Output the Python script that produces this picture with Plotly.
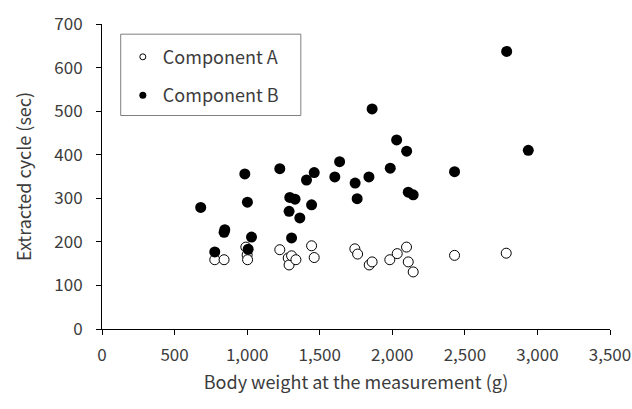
import plotly.graph_objects as go

# Component A (open circles)
a_weight = [777, 841, 991, 1000, 1003, 1225, 1283, 1289, 1306, 1336, 1444, 1462,
            1742, 1761, 1841, 1861, 1983, 2034, 2098, 2110, 2144, 2429, 2785]
a_cycle = [159, 159, 188, 170, 159, 182, 163, 147, 168, 159, 191, 164,
           184, 172, 147, 154, 159, 173, 188, 154, 131, 169, 174]

# Component B (filled circles)
b_weight = [680, 777, 841, 846, 984, 1007, 1002, 1030, 1225, 1289, 1294, 1306,
            1330, 1363, 1409, 1444, 1462, 1604, 1637, 1744, 1758, 1839, 1861,
            1986, 2030, 2099, 2110, 2144, 2429, 2788, 2937]
b_cycle = [279, 177, 222, 228, 356, 183, 291, 211, 368, 270, 302, 209,
           298, 255, 342, 285, 359, 349, 384, 335, 299, 349, 505,
           369, 434, 408, 314, 308, 361, 637, 410]

x_ticks = [0, 500, 1000, 1500, 2000, 2500, 3000, 3500]
x_tick_text = ["0", "500", "1,000", "1,500", "2,000", "2,500", "3,000", "3,500"]
y_ticks = [0, 100, 200, 300, 400, 500, 600, 700]

FONT = "Noto Sans CJK JP"
TXT = "#3c3c3c"
FS = 18
TFS = 17

fig = go.Figure()
fig.add_trace(go.Scatter(
    x=a_weight, y=a_cycle, mode="markers", name="Component A", showlegend=False,
    marker=dict(size=10, color="white", line=dict(color="black", width=1))))
fig.add_trace(go.Scatter(
    x=b_weight, y=b_cycle, mode="markers", name="Component B", showlegend=False,
    marker=dict(size=11, color="black", line=dict(color="black", width=0))))

# legend entries
fig.add_trace(go.Scatter(
    x=[None], y=[None], mode="markers", name="Component A", legendgroup="a",
    marker=dict(size=6, color="white", line=dict(color="black", width=1))))
fig.add_trace(go.Scatter(
    x=[None], y=[None], mode="markers", name="Component B", legendgroup="b",
    marker=dict(size=7, color="black", line=dict(color="black", width=0))))

axis_common = dict(
    showline=True, linecolor="black", linewidth=1,
    ticks="outside", ticklen=5, tickcolor="black", tickwidth=1,
    showgrid=False, zeroline=False, automargin=False,
    ticklabeloverflow="allow",
    tickfont=dict(family=FONT, size=TFS, color=TXT),
)

fig.update_layout(
    width=632, height=409,
    margin=dict(l=102, r=22, t=24, b=80),
    paper_bgcolor="white", plot_bgcolor="white",
    font=dict(family=FONT, size=FS, color=TXT),
    xaxis=dict(range=[0, 3500], tickvals=x_ticks, ticktext=x_tick_text,
               title=dict(text="Body weight at the measurement (g)",
                          font=dict(family=FONT, size=FS, color=TXT), standoff=10),
               ticklabelstandoff=6, **axis_common),
    yaxis=dict(range=[0, 700], tickvals=y_ticks,
               title=dict(text="Extracted cycle (sec)",
                          font=dict(family=FONT, size=FS, color=TXT), standoff=17),
               ticklabelstandoff=10, **axis_common),
    legend=dict(x=0.041, y=0.952, xanchor="left", yanchor="top",
                bgcolor="rgba(0,0,0,0)", borderwidth=0,
                traceorder="grouped", tracegroupgap=12,
                font=dict(family=FONT, size=FS, color=TXT)),
    shapes=[dict(type="rect", xref="paper", yref="paper",
                 x0=0.0368, x1=0.3914, y0=0.700, y1=0.9666,
                 line=dict(color="#7f7f7f", width=1), fillcolor="white",
                 layer="below")],
)

fig.write_html("out.html", config={"displayModeBar": False},
               post_script="document.body.style.margin='0';")
